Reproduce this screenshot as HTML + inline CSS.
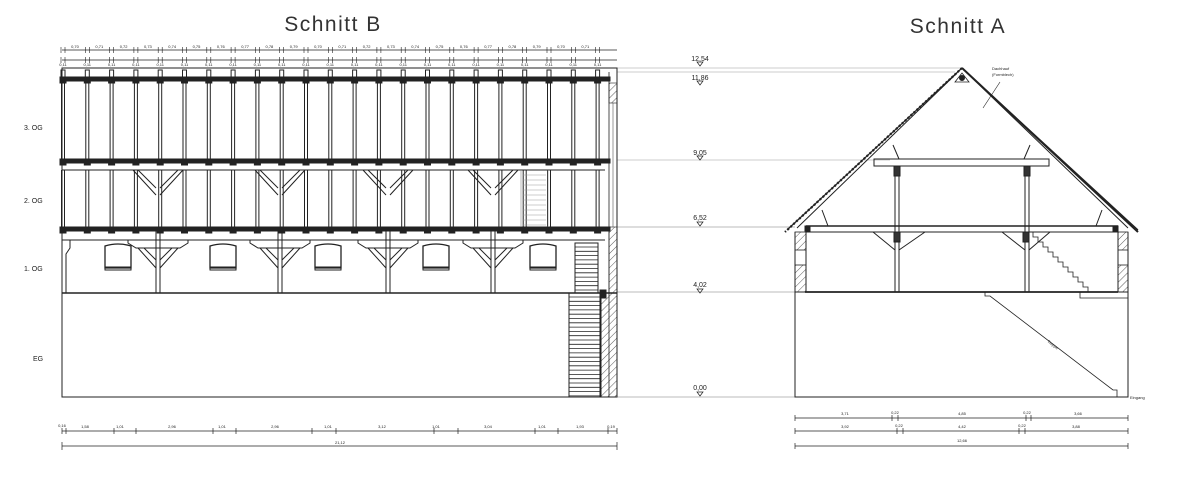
<!DOCTYPE html>
<html><head><meta charset="utf-8"><style>
html,body{margin:0;padding:0;background:#fff;width:1180px;height:483px;overflow:hidden}
svg{display:block}
text{font-family:"Liberation Sans",sans-serif;fill:#222}
.t{font-size:21px;font-weight:300;letter-spacing:1.5px;fill:#333}
.s{font-size:7px}
.xs{font-size:4px}
</style></head><body>
<svg id="d" width="1180" height="483" viewBox="0 0 1180 483" xmlns="http://www.w3.org/2000/svg">
<defs>
<pattern id="h" width="5" height="5" patternUnits="userSpaceOnUse" patternTransform="rotate(45)">
<line x1="0" y1="0" x2="0" y2="5" stroke="#333" stroke-width="0.8"/></pattern>
</defs>
<text class="t" x="333" y="31" text-anchor="middle">Schnitt B</text>
<text class="t" x="958" y="33" text-anchor="middle">Schnitt A</text>
<text class="s" x="24" y="130">3. OG</text>
<text class="s" x="24" y="203">2. OG</text>
<text class="s" x="24" y="271">1. OG</text>
<text class="s" x="33" y="361">EG</text>
<g text-anchor="middle" class="s">
<text x="700" y="61">12,54</text><text x="700" y="80">11,86</text>
<text x="700" y="155">9,05</text><text x="700" y="220">6,52</text>
<text x="700" y="287">4,02</text><text x="700" y="390">0,00</text>
</g>
<text class="xs" x="992" y="70">Dachhauf</text><text class="xs" x="992" y="76">(Formblech)</text>
<text class="xs" x="1130" y="399">Eingang</text>
<text class="xs" x="1047" y="342" transform="rotate(37 1047 342)">Treppe</text>
<g class="xs" text-anchor="middle">
<text x="845" y="415">3,71</text><text x="895" y="414">0,22</text><text x="962" y="415">4,85</text><text x="1027" y="414">0,22</text><text x="1078" y="415">3,66</text>
<text x="845" y="428">3,92</text><text x="899" y="427">0,22</text><text x="962" y="428">4,42</text><text x="1022" y="427">0,22</text><text x="1076" y="428">3,88</text>
<text x="962" y="442">12,66</text>
<text x="62" y="427">0,16</text><text x="85" y="428">1,58</text><text x="120" y="428">1,01</text><text x="172" y="428">2,96</text><text x="222" y="428">1,01</text><text x="275" y="428">2,96</text><text x="328" y="428">1,01</text><text x="382" y="428">3,12</text><text x="436" y="428">1,01</text><text x="488" y="428">3,04</text><text x="542" y="428">1,01</text><text x="580" y="428">1,93</text><text x="611" y="428">0,19</text>
<text x="340" y="444">21,12</text>
</g>
<g id="g" fill="none" stroke="#222" stroke-width="1"></g>
</svg>
<script>
var g=document.getElementById('g'),NS='http://www.w3.org/2000/svg';
function el(n,a){var e=document.createElementNS(NS,n);for(var k in a)e.setAttribute(k,a[k]);g.appendChild(e);return e}
function L(x1,y1,x2,y2,w,c){el('line',{x1:x1,y1:y1,x2:x2,y2:y2,'stroke-width':w||1,stroke:c||'#222'})}
function R(x,y,w,h,f,sw){el('rect',{x:x,y:y,width:w,height:h,fill:f||'none','stroke-width':sw||1})}
function P(d,w,f){el('path',{d:d,'stroke-width':w||1,fill:f||'none'})}
// level lines
[68,72,160,227,292].forEach(function(y){L(617,y,795,y,1,'#bbb')});
L(617,68,962,68,1,'#ccc');L(617,72,955,72,1,'#ccc');L(617,160,890,160,1,'#ccc');
L(617,397,795,397,1,'#bbb');
[62,81,156,222,289,392].forEach(function(y){el('path',{d:'M697 '+y+'h6l-3 4z','stroke-width':0.7})});
// Schnitt B frame
R(62,68,555,329,'none',1);
L(62,293,617,293,1.5);
// beams
R(62,77,548,4,'#222',0);R(62,159,548,4,'#222',0);R(62,227,548,4,'#222',0);
L(62,170,605,170);L(62,240,605,240);
// posts
for(var i=0;i<23;i++){var x=63+i*24.3;R(x-2,70,4,7);R(x-3,77,6,6,'#222',0);L(x-1.5,83,x-1.5,159);L(x+1.5,83,x+1.5,159);
R(x-3,159,6,6,'#222',0);L(x-1.5,170,x-1.5,227);L(x+1.5,170,x+1.5,227);R(x-3,227,6,6,'#222',0);}
// braces Y
[158,280,388,493].forEach(function(c){
P('M'+(c-25)+' 170L'+(c-2)+' 195M'+(c+25)+' 170L'+(c+2)+' 195M'+(c-20)+' 170L'+(c-2)+' 188M'+(c+20)+' 170L'+(c+2)+' 188');
L(c-2,231,c-2,293);L(c+2,231,c+2,293);
P('M'+(c-30)+' 240v3l8 5h44l8-5v-3');
P('M'+(c-20)+' 248L'+(c-2)+' 268M'+(c+20)+' 248L'+(c+2)+' 268M'+(c-14)+' 248L'+(c-2)+' 260M'+(c+14)+' 248L'+(c+2)+' 260');
});
// windows
[105,210,315,423,530].forEach(function(x){P('M'+x+' 268v-22q13-4 26 0v22z',1.3);R(x,267,26,3,'none',1)});
P('M64 240h6v8l-4 6v39',1);
// stairs B
R(569,293,31,104);for(var y=297;y<397;y+=4.3)L(569,y,600,y,0.8);
R(575,243,23,50);for(var y=247;y<293;y+=4.3)L(575,y,598,y,0.8);
L(521,170,521,227,0.6,'#888');L(548,170,548,227,0.6,'#888');for(var y=175;y<227;y+=5)L(523,y,546,y,0.5,'#999');
// right wall B
R(601,293,16,104,'url(#h)',1);R(609,83,8,20,'url(#h)',0.6);R(609,227,8,66,'url(#h)',0.6);
L(613,103,613,227,0.6,'#555');L(609,72,609,397,0.8);R(600,290,6,8,'#222',0);
// dims B top
L(62,50,617,50,0.7);L(62,60,617,60,0.7);
for(var i=0;i<23;i++){var x=63+i*24.3;L(x-2,47,x-2,53,0.6);L(x+2,47,x+2,53,0.6);L(x-2,57,x-2,63,0.6);L(x+2,57,x+2,63,0.6);
var t=document.createElementNS(NS,'text');t.setAttribute('x',x+12);t.setAttribute('y',48);t.setAttribute('class','xs');t.setAttribute('text-anchor','middle');t.textContent=i<22?'0,7'+(i%10):'';document.getElementById('d').appendChild(t);
var t2=document.createElementNS(NS,'text');t2.setAttribute('x',x);t2.setAttribute('y',66);t2.setAttribute('class','xs');t2.setAttribute('text-anchor','middle');t2.textContent='0,11';document.getElementById('d').appendChild(t2);}
// dims B bottom
L(62,431,617,431,0.7);[62,66,114,136,213,236,312,336,434,458,535,558,608,617].forEach(function(x){L(x,428,x,434,0.7)});
L(62,446,617,446,0.7);L(62,442,62,450,0.7);L(617,442,617,450,0.7);
// dims A
[418,431,446].forEach(function(y){L(795,y,1128,y,0.7);L(795,y-3,795,y+3,0.7);L(1128,y-3,1128,y+3,0.7)});
[892,898,1026,1031].forEach(function(x){L(x,415,x,421,0.7)});[897,903,1019,1025].forEach(function(x){L(x,428,x,434,0.7)});
// Schnitt A
R(795,292,333,105);
P('M795 292V232M806 292V232M1118 292V232M1128 292V232');
R(795,232,11,18,'url(#h)',0.8);R(795,265,11,27,'url(#h)',0.8);R(1118,232,10,18,'url(#h)',0.8);R(1118,265,10,27,'url(#h)',0.8);
L(805,292,1118,292,1.8);
R(806,226,312,6);L(806,226,1118,226,1.5);
P('M962 68L787 230M962 68L1138 230',1.2);
P('M957 73L797 228M967 73L1128 228',1);
el('path',{d:'M962 68L785 232','stroke-dasharray':'2 2','stroke-width':2.2});
L(962,68,1138,232,2);
P('M955 82h14l-7-9z',0.8);el('circle',{cx:962,cy:78,r:2.5,fill:'#222'});
L(1000,82,983,108,0.6);
// collar
R(874,159,175,7);
P('M895 166v126M899 166v126M1025 166v126M1029 166v126');
R(894,166,6,10,'#333',0);R(1024,166,6,10,'#333',0);R(894,232,6,10,'#333',0);R(1023,232,6,10,'#333',0);
P('M893 145l6 14M1030 145l-6 14M822 210l6 16M1102 210l-6 16');
P('M873 232L895 250M925 232L899 250M1002 232L1025 250M1050 232L1029 250');
R(805,226,5,5,'#222',0);R(1113,226,5,5,'#222',0);
// stair zigzag
var d='M1028 232';for(var k=0;k<12;k++)d+='h5v5';P(d,0.8);
P('M985 292v4h5L1113 390h4v7',0.8);
P('M1080 292v6h48',0.8);
</script>
</body></html>
